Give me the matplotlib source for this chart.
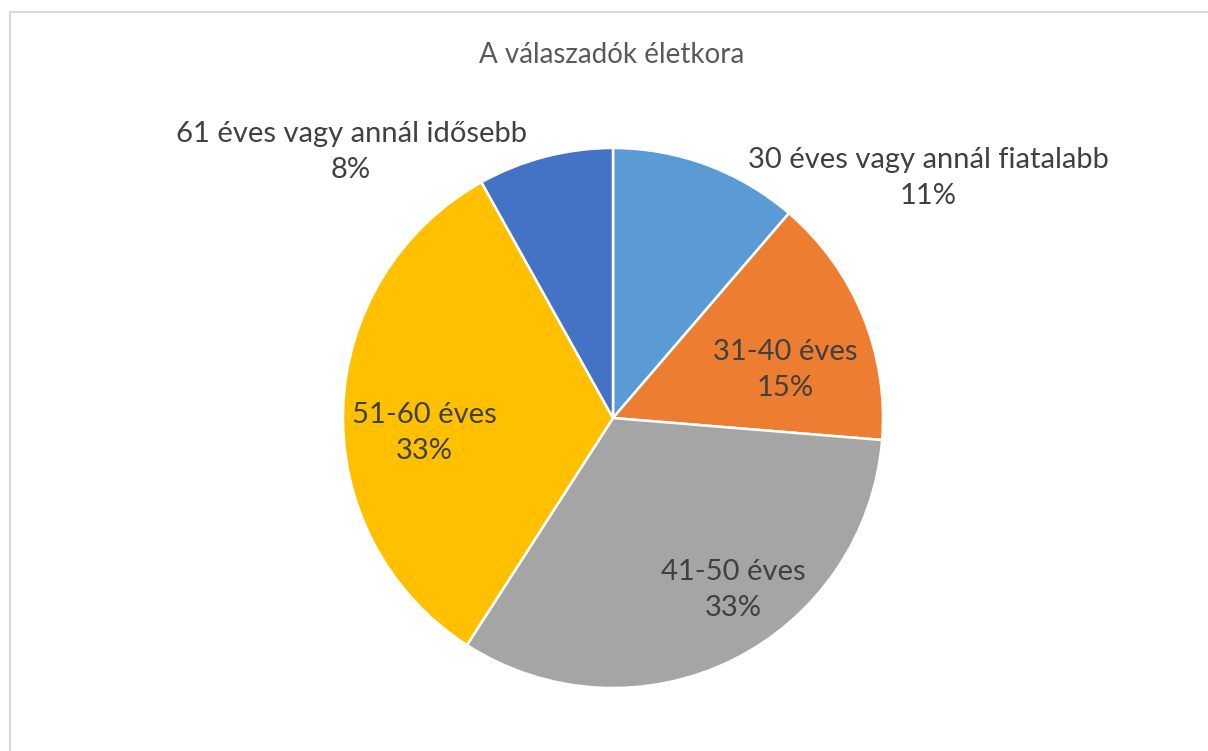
import matplotlib
matplotlib.use("Agg")
import matplotlib.pyplot as plt
from matplotlib.patches import Rectangle

plt.rcParams['font.family'] = ['Lato', 'DejaVu Sans']

# Data
categories = ['30 éves vagy annál fiatalabb', '31-40 éves', '41-50 éves',
              '51-60 éves', '61 éves vagy annál idősebb']
values = [11.3, 15.0, 32.8, 32.8, 8.1]
pct_labels = ['11%', '15%', '33%', '33%', '8%']
colors = ['#5B9BD5', '#ED7D31', '#A5A5A5', '#FFC000', '#4472C4']

# label centres in pie units (radius = 1)
label_pos = [(1.167, 0.889), (0.637, 0.178), (0.444, -0.637),
             (-0.700, -0.056), (-0.970, 0.985)]

W, H = 1208, 751
fig = plt.figure(figsize=(W / 100, H / 100), dpi=100)

# chart frame (Excel style)
fig.patches.append(Rectangle((10 / W, -0.01), 1.1, 1 - 12 / H + 0.01,
                             transform=fig.transFigure, fill=False,
                             edgecolor='#D9D9D9', linewidth=1.5))

cx, cy, r = 613, 418, 270
ax = fig.add_axes([(cx - r) / W, (H - cy - r) / H, 2 * r / W, 2 * r / H])
ax.pie(values, colors=colors, startangle=90, counterclock=False, radius=1,
       wedgeprops=dict(edgecolor='white', linewidth=1.8))
ax.set_xlim(-1, 1)
ax.set_ylim(-1, 1)
ax.set_aspect('equal')
ax.axis('off')

for cat, pct, (x, y) in zip(categories, pct_labels, label_pos):
    ax.text(x, y, cat + '\n' + pct, ha='center', va='center', fontsize=21,
            color='#404040', linespacing=1.45, clip_on=False)

fig.text(612 / W, 1 - 55 / H, 'A válaszadók életkora', ha='center', va='center',
         fontsize=20, color='#595959')

fig.savefig('out.png', dpi=100)
